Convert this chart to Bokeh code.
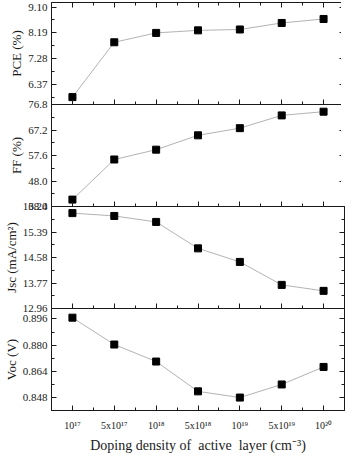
from bokeh.plotting import figure
from bokeh.layouts import column
from bokeh.models import (FixedTicker, LinearAxis, PrintfTickFormatter, Range1d,
                          CustomLabelingPolicy)
from bokeh.embed import file_html
from bokeh.resources import INLINE

# ---- data ----
x_labels = ["10¹⁷", "5x10¹⁷", "10¹⁸", "5x10¹⁸", "10¹⁹", "5x10¹⁹", "10²⁰"]
pce = [5.93, 7.86, 8.19, 8.28, 8.31, 8.54, 8.68]
ff = [41.0, 56.1, 59.8, 65.2, 67.9, 72.7, 74.1]
jsc = [15.99, 15.90, 15.71, 14.87, 14.44, 13.71, 13.52]
voc = [0.8968, 0.8804, 0.8700, 0.8518, 0.8480, 0.8560, 0.8667]

pce_ticks = [6.37, 7.28, 8.19, 9.10]
ff_ticks = [38.4, 48.0, 57.6, 67.2, 76.8]
jsc_ticks = [12.96, 13.77, 14.58, 15.39, 16.20]
voc_ticks = [0.848, 0.864, 0.880, 0.896]

pce_range = (5.67, 9.26)
ff_range = (38.4, 76.8)
jsc_range = (12.96, 16.20)
voc_range = (0.8401, 0.9024)

FONT = "Liberation Serif"
INK = "#1a1a1a"
xs = list(range(len(x_labels)))

NO_LABELS = """
for (const i of Array.from(indices)) {
    indices.unset(i)
}
return indices
"""


def minor_of(ticks):
    step = ticks[1] - ticks[0]
    return [t - step / 2 for t in ticks] + [ticks[-1] + step / 2]


def style_ticks(ax):
    ax.major_tick_in = 5
    ax.major_tick_out = 0
    ax.minor_tick_in = 3
    ax.minor_tick_out = 0
    ax.axis_line_color = INK
    ax.major_tick_line_color = INK
    ax.minor_tick_line_color = INK


def hide_labels(ax):
    ax.major_label_text_font_size = "0px"
    ax.major_label_standoff = 0
    ax.major_label_policy = CustomLabelingPolicy(code=NO_LABELS)


def hidden_axis(ticker):
    ax = LinearAxis(ticker=ticker, axis_label=None)
    hide_labels(ax)
    style_ticks(ax)
    return ax


def panel(values, ticks, fmt, yr, ylabel, first=False, last=False):
    p = figure(frame_width=293, frame_height=102,
               x_range=Range1d(-0.5, 6.5),
               y_range=Range1d(yr[0] - 1e-9, yr[1] + 1e-9),
               output_backend="svg", toolbar_location=None,
               min_border_left=46, min_border_right=2,
               min_border_top=2 if first else 7,
               min_border_bottom=40 if last else 7,
               background_fill_color=None, border_fill_color=None,
               outline_line_color=INK, outline_line_width=1,
               margin=(0, 0, 0, 0) if first else (-14, 0, 0, 0))
    p.grid.visible = False

    yt = FixedTicker(ticks=ticks, minor_ticks=minor_of(ticks))
    xt = FixedTicker(ticks=xs, minor_ticks=[i + 0.5 for i in xs[:-1]])

    ya = p.yaxis[0]
    ya.ticker = yt
    ya.formatter = PrintfTickFormatter(format=fmt)
    ya.axis_label = ylabel
    ya.axis_label_text_font = FONT
    ya.axis_label_text_font_style = "normal"
    ya.axis_label_text_font_size = "13px"
    ya.axis_label_text_color = INK
    ya.axis_label_standoff = 1
    ya.major_label_text_font = FONT
    ya.major_label_text_font_size = "11px"
    ya.major_label_text_color = INK
    ya.major_label_standoff = 4
    style_ticks(ya)

    xa = p.xaxis[0]
    xa.ticker = xt
    style_ticks(xa)
    if last:
        xa.major_label_overrides = {i: lab for i, lab in zip(xs, x_labels)}
        xa.major_label_text_font = FONT
        xa.major_label_text_font_size = "10px"
        xa.major_label_text_color = INK
        xa.major_label_standoff = 9
        xa.axis_label = "Doping density of\u00a0 active\u00a0 layer (cm⁻³)"
        xa.axis_label_text_font = FONT
        xa.axis_label_text_font_style = "normal"
        xa.axis_label_text_font_size = "14px"
        xa.axis_label_text_color = INK
        xa.axis_label_standoff = 4
    else:
        hide_labels(xa)

    p.add_layout(hidden_axis(yt), "right")
    if first:
        p.add_layout(hidden_axis(xt), "above")

    p.line(xs, values, line_color="#b3b3b3", line_width=1)
    p.scatter(xs, values, marker="square", size=7,
              fill_color="black", line_color="black")
    return p


p1 = panel(pce, pce_ticks, "%.2f", pce_range, "PCE (%)", first=True)
p2 = panel(ff, ff_ticks, "%.1f", ff_range, "FF (%)")
p3 = panel(jsc, jsc_ticks, "%.2f", jsc_range, "Jsc (mA/cm²)")
p4 = panel(voc, voc_ticks, "%.3f", voc_range, "Voc (V)", last=True)

layout = column(p1, p2, p3, p4, spacing=0)

open("out.html", "w").write(file_html(layout, INLINE))
